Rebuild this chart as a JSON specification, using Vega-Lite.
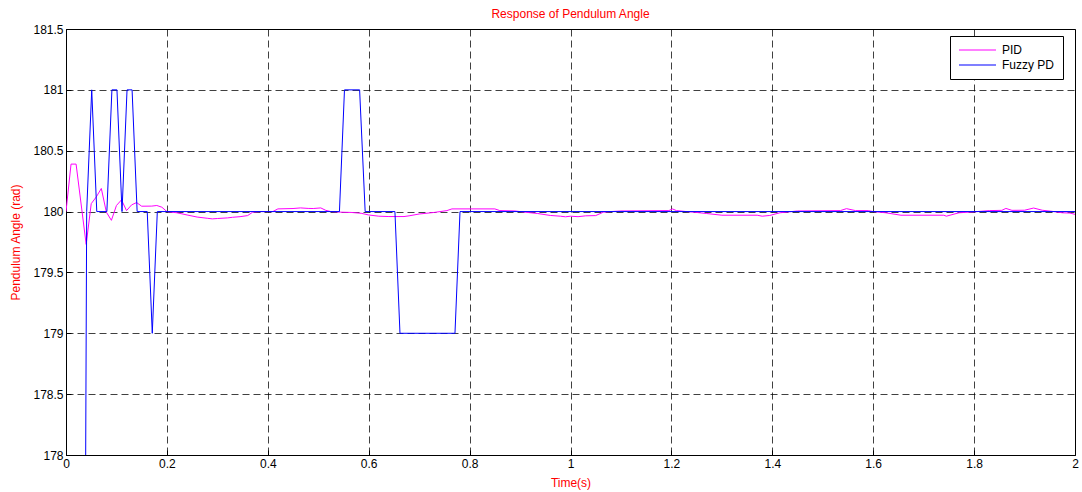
{
  "$schema": "https://vega.github.io/schema/vega-lite/v6.json",
  "width": 1009,
  "height": 426,
  "autosize": {"type": "none"},
  "padding": {"left": 66, "top": 29, "right": 7, "bottom": 37},
  "background": "white",
  "title": {"text": "Response of Pendulum Angle", "color": "#ff0000", "fontSize": 12, "font": "Liberation Sans", "fontWeight": "normal", "offset": 2, "anchor": "middle"},
  "config": {
    "view": {"stroke": "black", "strokeWidth": 1},
    "axis": {
      "domainColor": "black", "domainWidth": 1,
      "gridColor": "black", "gridOpacity": 0.75, "gridDash": [7, 4], "gridWidth": 1,
      "tickColor": "black", "tickSize": -5, "tickWidth": 1,
      "labelFont": "Liberation Sans", "labelFontSize": 12, "labelColor": "black",
      "titleFont": "Liberation Sans", "titleFontSize": 12, "titleColor": "#ff0000", "titleFontWeight": "normal"
    }
  },
  "datasets": {
    "pid": [
      {"t": 0, "v": 180}, {"t": 0.01, "v": 180.39}, {"t": 0.02, "v": 180.39}, {"t": 0.04, "v": 179.73},
      {"t": 0.05, "v": 180.065}, {"t": 0.06, "v": 180.12}, {"t": 0.07, "v": 180.19}, {"t": 0.08, "v": 179.995},
      {"t": 0.09, "v": 179.928}, {"t": 0.10, "v": 180.05}, {"t": 0.11, "v": 180.096}, {"t": 0.12, "v": 180.008},
      {"t": 0.13, "v": 180.055}, {"t": 0.14, "v": 180.074}, {"t": 0.15, "v": 180.044}, {"t": 0.17, "v": 180.045},
      {"t": 0.18, "v": 180.05}, {"t": 0.19, "v": 180.036}, {"t": 0.20, "v": 180.0}, {"t": 0.22, "v": 179.99},
      {"t": 0.24, "v": 179.972}, {"t": 0.26, "v": 179.955}, {"t": 0.28, "v": 179.945}, {"t": 0.29, "v": 179.94},
      {"t": 0.30, "v": 179.943}, {"t": 0.32, "v": 179.948}, {"t": 0.33, "v": 179.953}, {"t": 0.345, "v": 179.958},
      {"t": 0.36, "v": 179.967}, {"t": 0.37, "v": 179.995}, {"t": 0.385, "v": 180.0}, {"t": 0.41, "v": 180.0},
      {"t": 0.42, "v": 180.022}, {"t": 0.45, "v": 180.025}, {"t": 0.465, "v": 180.03}, {"t": 0.48, "v": 180.026},
      {"t": 0.49, "v": 180.025}, {"t": 0.505, "v": 180.03}, {"t": 0.515, "v": 180.01}, {"t": 0.525, "v": 180.0},
      {"t": 0.545, "v": 179.995}, {"t": 0.565, "v": 179.993}, {"t": 0.585, "v": 179.986}, {"t": 0.60, "v": 179.972},
      {"t": 0.62, "v": 179.962}, {"t": 0.64, "v": 179.959}, {"t": 0.67, "v": 179.959}, {"t": 0.68, "v": 179.965},
      {"t": 0.70, "v": 179.98}, {"t": 0.73, "v": 179.993}, {"t": 0.755, "v": 180.008}, {"t": 0.765, "v": 180.022},
      {"t": 0.85, "v": 180.022}, {"t": 0.86, "v": 180.008}, {"t": 0.89, "v": 180.005}, {"t": 0.91, "v": 179.995},
      {"t": 0.935, "v": 179.984}, {"t": 0.96, "v": 179.968}, {"t": 0.98, "v": 179.962}, {"t": 0.99, "v": 179.957},
      {"t": 1.0, "v": 179.962}, {"t": 1.015, "v": 179.958}, {"t": 1.03, "v": 179.965}, {"t": 1.05, "v": 179.967},
      {"t": 1.065, "v": 179.995}, {"t": 1.08, "v": 180.0}, {"t": 1.10, "v": 180.005}, {"t": 1.195, "v": 180.008},
      {"t": 1.202, "v": 180.022}, {"t": 1.21, "v": 180.008}, {"t": 1.235, "v": 179.998}, {"t": 1.245, "v": 179.995},
      {"t": 1.27, "v": 179.984}, {"t": 1.30, "v": 179.97}, {"t": 1.37, "v": 179.97}, {"t": 1.38, "v": 179.962},
      {"t": 1.395, "v": 179.968}, {"t": 1.415, "v": 179.99}, {"t": 1.45, "v": 180.005}, {"t": 1.535, "v": 180.008},
      {"t": 1.547, "v": 180.024}, {"t": 1.565, "v": 180.008}, {"t": 1.59, "v": 180.008}, {"t": 1.6, "v": 180.0},
      {"t": 1.625, "v": 179.99}, {"t": 1.655, "v": 179.97}, {"t": 1.74, "v": 179.97}, {"t": 1.745, "v": 179.962},
      {"t": 1.77, "v": 179.99}, {"t": 1.80, "v": 179.998}, {"t": 1.83, "v": 180.008}, {"t": 1.855, "v": 180.01},
      {"t": 1.863, "v": 180.026}, {"t": 1.875, "v": 180.01}, {"t": 1.90, "v": 180.011}, {"t": 1.918, "v": 180.029},
      {"t": 1.935, "v": 180.011}, {"t": 1.958, "v": 180.0}, {"t": 1.975, "v": 179.99}, {"t": 1.99, "v": 179.988},
      {"t": 2.0, "v": 179.977}
    ],
    "fuzzy": [
      {"t": 0.039, "v": 178}, {"t": 0.041, "v": 180}, {"t": 0.051, "v": 181}, {"t": 0.061, "v": 180},
      {"t": 0.081, "v": 180}, {"t": 0.091, "v": 181}, {"t": 0.101, "v": 181}, {"t": 0.111, "v": 180},
      {"t": 0.121, "v": 181}, {"t": 0.131, "v": 181}, {"t": 0.141, "v": 180}, {"t": 0.161, "v": 180},
      {"t": 0.171, "v": 179}, {"t": 0.181, "v": 180}, {"t": 0.542, "v": 180}, {"t": 0.552, "v": 181},
      {"t": 0.582, "v": 181}, {"t": 0.593, "v": 180}, {"t": 0.652, "v": 180}, {"t": 0.662, "v": 179},
      {"t": 0.771, "v": 179}, {"t": 0.781, "v": 180}, {"t": 2.0, "v": 180}
    ]
  },
  "encoding": {
    "x": {"field": "t", "type": "quantitative", "title": "Time(s)",
      "scale": {"domain": [0, 2], "nice": false, "zero": false},
      "axis": {"values": [0, 0.2, 0.4, 0.6, 0.8, 1, 1.2, 1.4, 1.6, 1.8, 2], "format": "~g", "labelPadding": 8, "titlePadding": 8, "labelFlush": false}},
    "y": {"field": "v", "type": "quantitative", "title": "Pendulum Angle (rad)",
      "scale": {"domain": [178, 181.5], "nice": false, "zero": false},
      "axis": {"values": [178, 178.5, 179, 179.5, 180, 180.5, 181, 181.5], "format": "~g", "labelPadding": 8, "titlePadding": 10, "labelFlush": false}},
    "color": {"field": "s", "type": "nominal",
      "scale": {"domain": ["PID", "Fuzzy PD"], "range": ["#ff00ff", "#0000ff"]},
      "legend": {"title": null, "orient": "none", "legendX": 884, "legendY": 7,
        "strokeColor": "black", "fillColor": "white", "padding": 8,
        "symbolType": "M-1,0H6.4", "symbolSize": 100, "symbolStrokeWidth": 1.2, "labelOffset": 32,
        "labelFont": "Liberation Sans", "labelFontSize": 12, "labelColor": "black", "rowPadding": 3, "cornerRadius": 0}}
  },
  "layer": [
    {"data": {"name": "pid"}, "transform": [{"calculate": "'PID'", "as": "s"}],
     "mark": {"type": "line", "strokeWidth": 1, "clip": true}},
    {"data": {"name": "fuzzy"}, "transform": [{"calculate": "'Fuzzy PD'", "as": "s"}],
     "mark": {"type": "line", "strokeWidth": 1, "clip": true}}
  ]
}
